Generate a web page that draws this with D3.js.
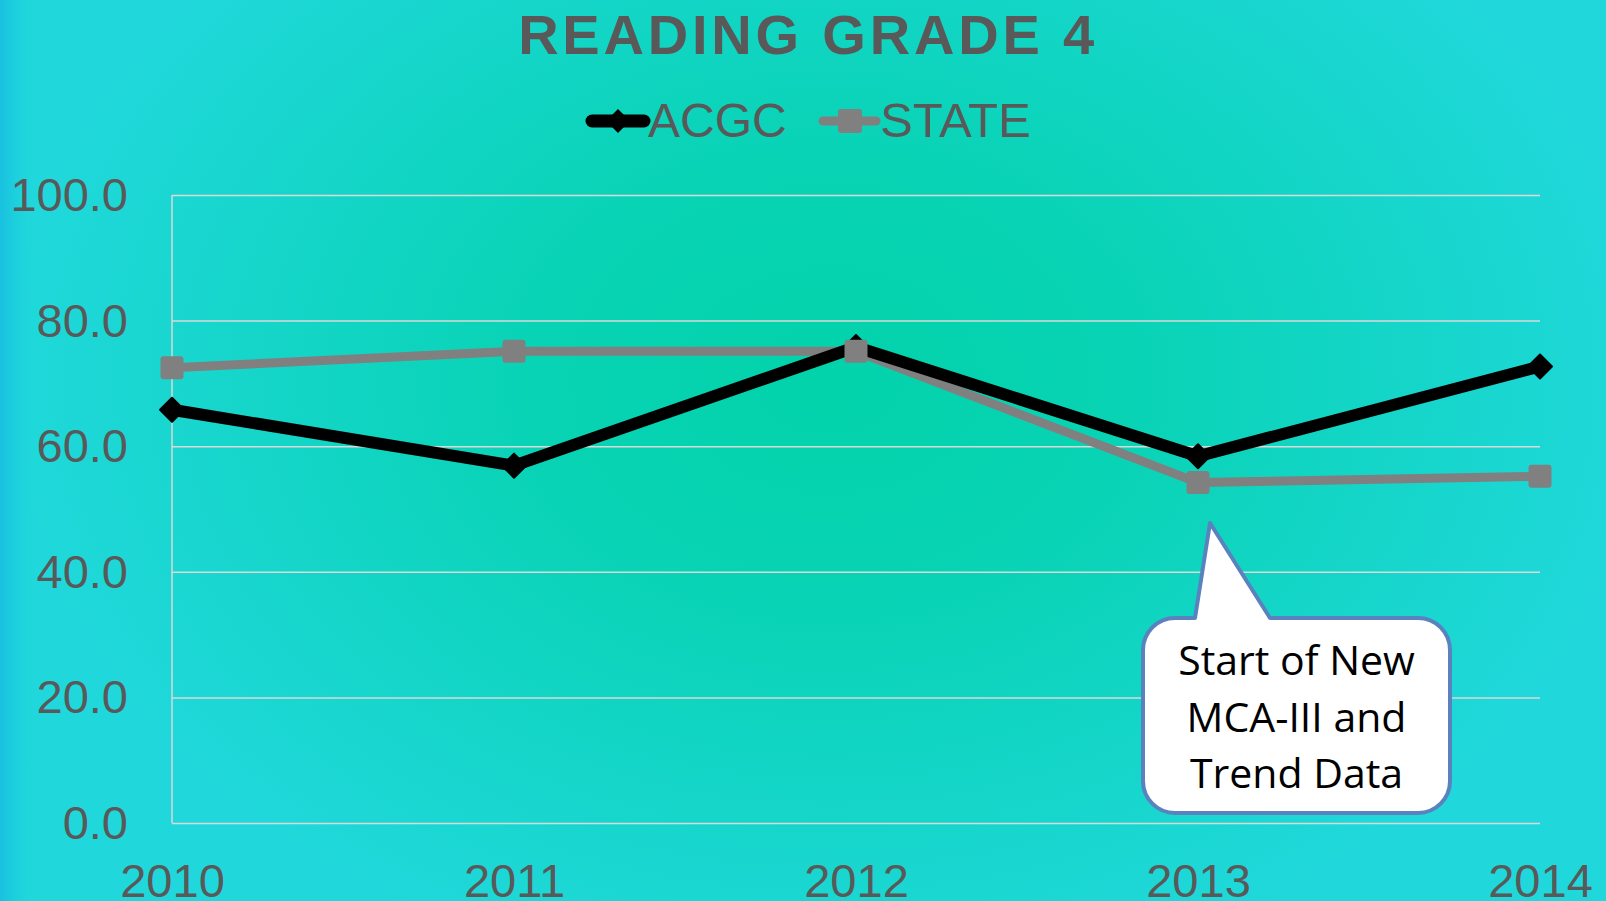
<!DOCTYPE html>
<html>
<head>
<meta charset="utf-8">
<script src="https://cdn.jsdelivr.net/npm/d3@7"></script>
<style>
  html, body { margin: 0; padding: 0; overflow: hidden; }
  svg { display: block; }
</style>
</head>
<body>
<div id="chart"></div>
<script>
const years = ['2010', '2011', '2012', '2013', '2014'];
const acgc = [65.8, 56.9, 75.8, 58.4, 72.7];
const state = [72.5, 75.1, 75.1, 54.2, 55.2];
const yTicks = [0, 20, 40, 60, 80, 100];
const calloutLines = ['Start of New', 'MCA-III and', 'Trend Data'];

const W = 1606, H = 901;
const margin = { top: 195, right: 66, bottom: 78, left: 172 };
const width = W - margin.left - margin.right;
const height = H - margin.top - margin.bottom;

const svg = d3.select('#chart')
  .append('svg')
  .attr('width', W)
  .attr('height', H);

// background: teal glow in the middle, cyan outside, bluish strip on the left
const defs = svg.append('defs');
const rg = defs.append('radialGradient')
  .attr('id', 'bg')
  .attr('gradientUnits', 'userSpaceOnUse')
  .attr('cx', 830).attr('cy', 380).attr('r', 820)
  .attr('gradientTransform', 'translate(830,380) scale(1,0.75) translate(-830,-380)');
rg.append('stop').attr('offset', '0%').attr('stop-color', '#02d3aa');
rg.append('stop').attr('offset', '35%').attr('stop-color', '#08d3b4');
rg.append('stop').attr('offset', '100%').attr('stop-color', '#20d8db');

const lg = defs.append('linearGradient')
  .attr('id', 'edge')
  .attr('x1', 0).attr('x2', 1).attr('y1', 0).attr('y2', 0);
lg.append('stop').attr('offset', '0%').attr('stop-color', '#19c0e0').attr('stop-opacity', 1);
lg.append('stop').attr('offset', '100%').attr('stop-color', '#1dd6dc').attr('stop-opacity', 0);

svg.append('rect').attr('width', W).attr('height', H).attr('fill', 'url(#bg)');
svg.append('rect').attr('width', 36).attr('height', H).attr('fill', 'url(#edge)');

const g = svg.append('g')
  .attr('transform', `translate(${margin.left},${margin.top})`);

const xScale = d3.scalePoint()
  .domain(years)
  .range([0, width]);

const yScale = d3.scaleLinear()
  .domain([0, 100])
  .range([height, 0]);

// gridlines
g.append('g')
  .call(d3.axisLeft(yScale).tickValues(yTicks).tickSize(-width).tickFormat(''))
  .call(a => a.select('.domain').remove())
  .selectAll('line')
  .attr('stroke', '#d9d9d9')
  .attr('stroke-width', 1.5);

g.append('line')
  .attr('x1', 0).attr('x2', 0)
  .attr('y1', 0).attr('y2', height)
  .attr('stroke', '#d9d9d9')
  .attr('stroke-width', 1.5);

// y labels
const yAxis = g.append('g')
  .call(d3.axisLeft(yScale).tickValues(yTicks).tickSize(0).tickPadding(44).tickFormat(d3.format('.1f')));
yAxis.select('.domain').remove();
yAxis.selectAll('text')
  .attr('fill', '#595959')
  .attr('font-family', 'Liberation Sans, Arial, sans-serif')
  .attr('font-size', '47px')
  .attr('dy', '0.33em');

// x labels (bottom edge clips them, as in the original slide)
const xAxis = g.append('g')
  .attr('transform', `translate(0,${height})`)
  .call(d3.axisBottom(xScale).tickSize(0).tickPadding(0));
xAxis.select('.domain').remove();
xAxis.selectAll('text')
  .attr('fill', '#595959')
  .attr('font-family', 'Liberation Sans, Arial, sans-serif')
  .attr('font-size', '47px')
  .attr('y', 74)
  .attr('dy', 0);

const line = d3.line()
  .x((d, i) => xScale(years[i]))
  .y(d => yScale(d));

const diamond = s => `M0,${-s}L${s},0L0,${s}L${-s},0Z`;

// STATE series
g.append('path')
  .datum(state)
  .attr('fill', 'none')
  .attr('stroke', '#808080')
  .attr('stroke-width', 9)
  .attr('stroke-linejoin', 'round')
  .attr('d', line);

// ACGC series
g.append('path')
  .datum(acgc)
  .attr('fill', 'none')
  .attr('stroke', '#000')
  .attr('stroke-width', 12)
  .attr('stroke-linejoin', 'round')
  .attr('d', line);

g.selectAll('.acgc-pt')
  .data(acgc)
  .enter()
  .append('path')
  .attr('class', 'acgc-pt')
  .attr('transform', (d, i) => `translate(${xScale(years[i])},${yScale(d)})`)
  .attr('d', diamond(12))
  .attr('fill', '#000')
  .attr('stroke', '#000')
  .attr('stroke-width', 2)
  .attr('stroke-linejoin', 'round');

g.selectAll('.state-pt')
  .data(state)
  .enter()
  .append('rect')
  .attr('class', 'state-pt')
  .attr('x', (d, i) => xScale(years[i]) - 11.5)
  .attr('y', d => yScale(d) - 11.5)
  .attr('width', 23)
  .attr('height', 23)
  .attr('rx', 3)
  .attr('fill', '#808080');

// title
svg.append('text')
  .attr('x', 808)
  .attr('y', 54)
  .attr('text-anchor', 'middle')
  .attr('font-family', 'Liberation Sans, Arial, sans-serif')
  .attr('font-weight', 'bold')
  .attr('font-size', '56px')
  .attr('letter-spacing', '3.8px')
  .attr('fill', '#595959')
  .text('READING GRADE 4');

// legend
const legend = svg.append('g').attr('transform', 'translate(0,121)');

legend.append('line')
  .attr('x1', 592).attr('x2', 644)
  .attr('stroke', '#000').attr('stroke-width', 13).attr('stroke-linecap', 'round');
legend.append('path')
  .attr('transform', 'translate(618,0)')
  .attr('d', diamond(12))
  .attr('fill', '#000');
legend.append('text')
  .attr('x', 648).attr('y', 16)
  .attr('font-family', 'Liberation Sans, Arial, sans-serif')
  .attr('font-size', '48px')
  .attr('fill', '#595959')
  .text('ACGC');

legend.append('line')
  .attr('x1', 823).attr('x2', 876)
  .attr('stroke', '#808080').attr('stroke-width', 9).attr('stroke-linecap', 'round');
legend.append('rect')
  .attr('x', 838).attr('y', -12)
  .attr('width', 24).attr('height', 24)
  .attr('rx', 3)
  .attr('fill', '#808080');
legend.append('text')
  .attr('x', 880).attr('y', 16)
  .attr('font-family', 'Liberation Sans, Arial, sans-serif')
  .attr('font-size', '49px')
  .attr('fill', '#595959')
  .text('STATE');

// callout pointing at the 2013 STATE point
const bx = 1143, by = 618, bw = 307, bh = 195, r = 32;
const tipX = 1210, tipY = 523;
const callout = d3.path();
callout.moveTo(bx + r, by);
callout.lineTo(1195, by);
callout.lineTo(tipX, tipY);
callout.lineTo(1270, by);
callout.lineTo(bx + bw - r, by);
callout.arcTo(bx + bw, by, bx + bw, by + r, r);
callout.lineTo(bx + bw, by + bh - r);
callout.arcTo(bx + bw, by + bh, bx + bw - r, by + bh, r);
callout.lineTo(bx + r, by + bh);
callout.arcTo(bx, by + bh, bx, by + bh - r, r);
callout.lineTo(bx, by + r);
callout.arcTo(bx, by, bx + r, by, r);
callout.closePath();

svg.append('path')
  .attr('d', callout.toString())
  .attr('fill', '#fff')
  .attr('stroke', '#5a82bf')
  .attr('stroke-width', 4)
  .attr('stroke-linejoin', 'round');

svg.append('g')
  .selectAll('text')
  .data(calloutLines)
  .enter()
  .append('text')
  .attr('x', bx + bw / 2)
  .attr('y', (d, i) => 675 + i * 56.5)
  .attr('text-anchor', 'middle')
  .attr('font-family', 'Open Sans, sans-serif')
  .attr('font-size', '41px')
  .attr('fill', '#000')
  .text(d => d);
</script>
</body>
</html>
